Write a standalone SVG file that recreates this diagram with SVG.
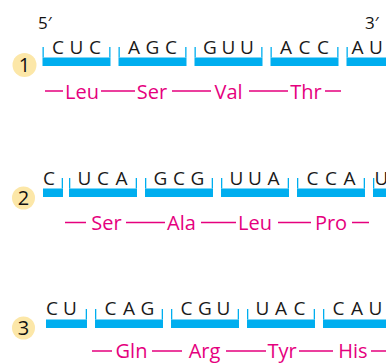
<svg xmlns="http://www.w3.org/2000/svg" xmlns:xlink="http://www.w3.org/1999/xlink" width="386" height="363" viewBox="0 0 386 363">
<style>
.bar{fill:#00AEEF}
.cod{font-family:"Open Sans","Noto Sans",sans-serif;font-size:19px;fill:#1a1a1a;text-anchor:middle}
.aa{font-family:"Open Sans","Noto Sans",sans-serif;font-size:20px;fill:#E5007E;text-anchor:middle}
.num{font-family:"Open Sans","Noto Sans",sans-serif;font-size:20px;fill:#111;text-anchor:middle}
.end{font-family:"Open Sans","Noto Sans",sans-serif;font-size:17px;fill:#111}
.circ{fill:#FCE7A8}
.pep{stroke:#E5007E;stroke-width:1.4;fill:none}
</style>
<defs>
<g id="br" class="bar"><rect x="0" y="0" width="68" height="8.5"/><rect x="0" y="-10.5" width="1.3" height="10.5"/><rect x="66.7" y="-10.5" width="1.3" height="10.5"/></g>
</defs>
<rect width="386" height="363" fill="#fff"/>
<text class="end" x="38" y="28.5">5′</text>
<text class="end" x="365" y="28.5">3′</text>

<g id="n1"><circle class="circ" cx="24.5" cy="65" r="12"/><text class="num" x="24.5" y="72">1</text></g>
<g id="r1c1"><use xlink:href="#br" x="42.5" y="57.5"/><text class="cod" x="58 76.5 95" y="53.5">CUC</text></g>
<g id="r1c2"><use xlink:href="#br" x="118.5" y="57.5"/><text class="cod" x="134 152.5 171" y="53.5">AGC</text></g>
<g id="r1c3"><use xlink:href="#br" x="194.5" y="57.5"/><text class="cod" x="210 228.5 247" y="53.5">GUU</text></g>
<g id="r1c4"><use xlink:href="#br" x="270.5" y="57.5"/><text class="cod" x="286 304.5 323" y="53.5">ACC</text></g>
<g id="r1c5"><g class="bar"><rect x="346.5" y="57.5" width="40" height="8.5"/><rect x="346.5" y="47" width="1.3" height="10.5"/></g><text class="cod" x="357.5 376" y="53.5">AU</text></g>
<g id="r1a1"><text class="aa" x="82" y="98.5">Leu</text></g>
<g id="r1a2"><text class="aa" x="152" y="98.5">Ser</text></g>
<g id="r1a3"><text class="aa" x="228.5" y="98.5">Val</text></g>
<g id="r1a4"><text class="aa" x="306" y="98.5">Thr</text></g>

<g id="n2"><circle class="circ" cx="23.5" cy="198" r="11.5"/><text class="num" x="23.5" y="205">2</text></g>
<g id="r2c0"><g class="bar"><rect x="43" y="188.5" width="20" height="8.5"/><rect x="61.7" y="178" width="1.3" height="10.5"/></g><text class="cod" x="49" y="185">C</text></g>
<g id="r2c1"><use xlink:href="#br" x="69" y="188.5"/><text class="cod" x="84.5 103 121.5" y="185">UCA</text></g>
<g id="r2c2"><use xlink:href="#br" x="145" y="188.5"/><text class="cod" x="160.5 179 197.5" y="185">GCG</text></g>
<g id="r2c3"><use xlink:href="#br" x="221" y="188.5"/><text class="cod" x="236.5 255 273.5" y="185">UUA</text></g>
<g id="r2c4"><use xlink:href="#br" x="297" y="188.5"/><text class="cod" x="312.5 331 349.5" y="185">CCA</text></g>
<g id="r2c5"><g class="bar"><rect x="373" y="188.5" width="14" height="8.5"/><rect x="373" y="178" width="1.3" height="10.5"/></g><text class="cod" x="381.5" y="185">U</text></g>
<g id="r2a1"><text class="aa" x="106.5" y="229.5">Ser</text></g>
<g id="r2a2"><text class="aa" x="181.5" y="229.5">Ala</text></g>
<g id="r2a3"><text class="aa" x="255" y="229.5">Leu</text></g>
<g id="r2a4"><text class="aa" x="331" y="229.5">Pro</text></g>

<g id="n3"><circle class="circ" cx="23.5" cy="328" r="11.5"/><text class="num" x="23.5" y="335">3</text></g>
<g id="r3c0"><g class="bar"><rect x="46" y="319.5" width="41" height="8.5"/><rect x="85.7" y="309" width="1.3" height="10.5"/></g><text class="cod" x="52 70" y="315">CU</text></g>
<g id="r3c1"><use xlink:href="#br" x="95" y="319.5"/><text class="cod" x="110.5 129 147.5" y="315">CAG</text></g>
<g id="r3c2"><use xlink:href="#br" x="171" y="319.5"/><text class="cod" x="186.5 205 223.5" y="315">CGU</text></g>
<g id="r3c3"><use xlink:href="#br" x="247" y="319.5"/><text class="cod" x="262.5 281 299.5" y="315">UAC</text></g>
<g id="r3c4"><g class="bar"><rect x="323" y="319.5" width="64" height="8.5"/><rect x="323" y="309" width="1.3" height="10.5"/></g><text class="cod" x="338.5 357 375.5" y="315">CAU</text></g>
<g id="r3a1"><text class="aa" x="131.5" y="357.5">Gln</text></g>
<g id="r3a2"><text class="aa" x="204.5" y="357.5">Arg</text></g>
<g id="r3a3"><text class="aa" x="282" y="357.5">Tyr</text></g>
<g id="r3a4"><text class="aa" x="353" y="357.5">His</text></g>

<g id="connectors" class="pep">
<path d="M45 91H63M101 91H135M172 91H211M249 91H288M325 91H341"/>
<path d="M65 222.5H86M126 222.5H165M201 222.5H236M278 222.5H311M352 222.5H369"/>
<path d="M92 351H112M152 351H182M226 351H266M299 351H333M371 351H386"/>
</g>
</svg>
